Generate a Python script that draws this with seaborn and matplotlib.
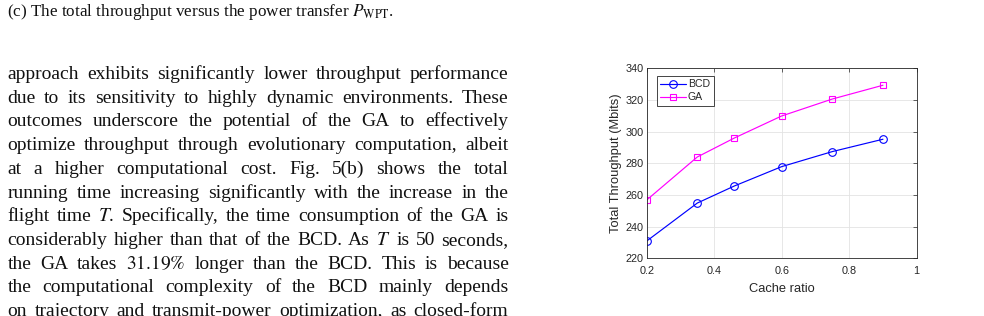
import matplotlib
matplotlib.use("Agg")
import matplotlib.pyplot as plt
import seaborn as sns
import pandas as pd

# ---------------- data ----------------
cache_ratio = [0.2, 0.35, 0.46, 0.6, 0.75, 0.9]
bcd_throughput = [230.9, 254.9, 265.7, 277.9, 287.4, 295.2]
ga_throughput = [256.8, 284.0, 296.0, 309.9, 320.6, 329.3]
series_names = ["BCD", "GA"]
x_ticks = [0.2, 0.4, 0.6, 0.8, 1.0]
x_tick_labels = ["0.2", "0.4", "0.6", "0.8", "1"]
y_ticks = [220, 240, 260, 280, 300, 320, 340]
x_label = "Cache ratio"
y_label = "Total Throughput (Mbits)"

caption = r"(c) The total throughput versus the power transfer $P_{\mathrm{WPT}}$."
body_lines = [
    "approach exhibits significantly lower throughput performance",
    "due to its sensitivity to highly dynamic environments. These",
    "outcomes underscore the potential of the GA to effectively",
    "optimize throughput through evolutionary computation, albeit",
    "at a higher computational cost. Fig. 5(b) shows the total",
    "running time increasing significantly with the increase in the",
    "flight time $T$. Specifically, the time consumption of the GA is",
    "considerably higher than that of the BCD. As $T$ is 50 seconds,",
    r"the GA takes $31.19\%$ longer than the BCD. This is because",
    "the computational complexity of the BCD mainly depends",
    "on trajectory and transmit-power optimization, as closed-form",
]

# ---------------- figure ----------------
sns.set_style("white")
plt.rcParams["mathtext.fontset"] = "stix"
W, H = 984, 316
fig = plt.figure(figsize=(W / 100, H / 100), dpi=100)
fig.patch.set_facecolor("white")
renderer = fig.canvas.get_renderer()

serif = ["Liberation Serif", "DejaVu Serif"]

# caption
fig.text(7.0 / W, 1 - 15.5 / H, caption, fontsize=12.3, family=serif,
         va="baseline", ha="left", color="#111111")

# justified body text
left_px, right_px = 7.5, 508.5
body_size = 14.0
for i, line in enumerate(body_lines):
    baseline = 79.0 + 23.7 * i
    words = line.split(" ")
    objs = []
    total = 0.0
    for w in words:
        t = fig.text(0, 1 - baseline / H, w, fontsize=body_size, family=serif,
                     va="baseline", ha="left", color="#111111")
        wd = t.get_window_extent(renderer).width
        objs.append((t, wd))
        total += wd
    gap = (right_px - left_px - total) / max(len(words) - 1, 1)
    x = left_px
    for t, wd in objs:
        t.set_x(x / W)
        x += wd + gap

# ---------------- chart ----------------
ax_l, ax_r, ax_t, ax_b = 646.7, 916.7, 68.3, 258.3
ax = fig.add_axes([ax_l / W, 1 - ax_b / H, (ax_r - ax_l) / W, (ax_b - ax_t) / H])

df = pd.DataFrame({
    "x": cache_ratio * 2,
    "y": bcd_throughput + ga_throughput,
    "Method": [series_names[0]] * len(cache_ratio) + [series_names[1]] * len(cache_ratio),
})
colors = {"BCD": "#0000ff", "GA": "#ff00ff"}
markers = {"BCD": "o", "GA": "s"}
msize = {"BCD": 5.5, "GA": 4.6}
for name in series_names:
    sub = df[df["Method"] == name]
    sns.lineplot(data=sub, x="x", y="y", ax=ax, color=colors[name],
                 marker=markers[name], markersize=msize[name],
                 markerfacecolor="none", markeredgecolor=colors[name],
                 markeredgewidth=0.8, linewidth=0.85, label=name)

ax.set_xlim(0.2, 1.0)
ax.set_ylim(220, 340)
ax.set_xticks(x_ticks)
ax.set_xticklabels(x_tick_labels)
ax.set_yticks(y_ticks)
ax.grid(True, color="#e3e3e3", linewidth=0.6)
ax.set_axisbelow(True)
for s in ax.spines.values():
    s.set_visible(True)
    s.set_color("#262626")
    s.set_linewidth(0.6)
ax.tick_params(direction="in", top=True, right=True, length=3, width=0.5,
               labelsize=7.8, colors="#262626", labelcolor="#262626")
ax.tick_params(axis="x", pad=5.5)
ax.tick_params(axis="y", pad=2.5)
sans = ["Liberation Sans", "DejaVu Sans"]
for lab in ax.get_xticklabels() + ax.get_yticklabels():
    lab.set_family(sans)
ax.set_xlabel(x_label, fontsize=9.3, family=sans, color="#262626", labelpad=5)
ax.set_ylabel(y_label, fontsize=9.3, family=sans, color="#262626", labelpad=2)

leg = ax.legend(loc="upper left", bbox_to_anchor=(0.037, 0.962), borderaxespad=0,
                frameon=True, fancybox=False, framealpha=1, edgecolor="#262626",
                handlelength=2.4, handletextpad=0.2, borderpad=0.35,
                labelspacing=0.3, prop={"family": sans, "size": 7.6})
leg.get_frame().set_linewidth(0.6)

fig.savefig("out.png", dpi=100, facecolor="white")
